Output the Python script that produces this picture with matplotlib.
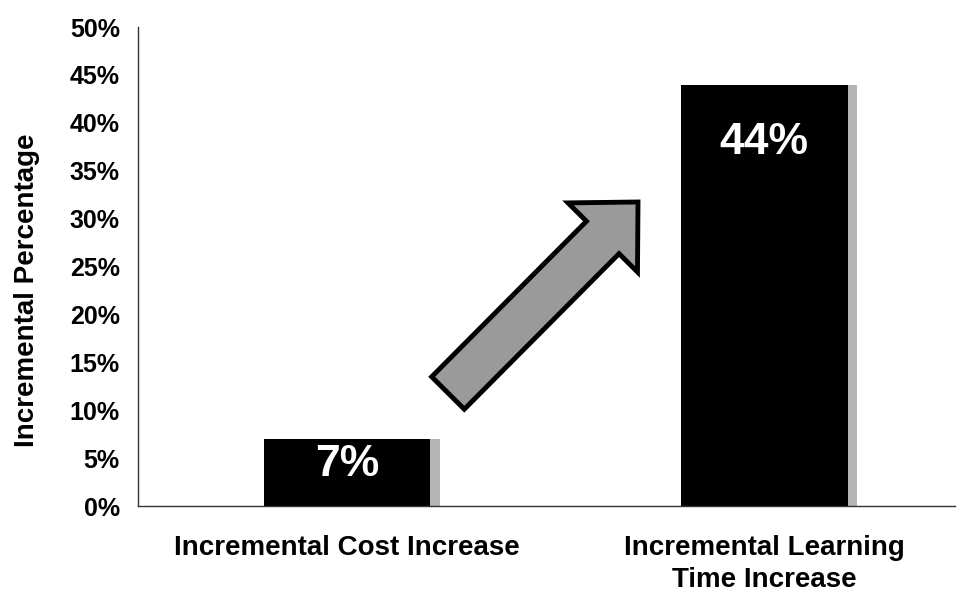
import matplotlib.pyplot as plt
from matplotlib.patches import FancyArrow

plt.rcParams['font.family'] = ['Liberation Sans', 'DejaVu Sans']

categories = ['Incremental Cost Increase', 'Incremental Learning\nTime Increase']
values = [7, 44]
value_labels = ['7%', '44%']
label_y = [4.3, 38]
y_ticks = [0, 5, 10, 15, 20, 25, 30, 35, 40, 45, 50]

fig = plt.figure(figsize=(9.58, 5.94), dpi=100)
ax = fig.add_axes([0.144, 0.148, 0.853, 0.8065])

x = list(range(len(categories)))
bar_w = 0.4

# soft grey drop shadow on the right edge, then the black bars
ax.bar([i + 0.022 for i in x], values, width=bar_w, color='#b4b4b4', zorder=1)
ax.bar(x, values, width=bar_w, color='black', zorder=2)

for i, (lab, ly) in enumerate(zip(value_labels, label_y)):
    ax.text(i, ly, lab, color='white', fontsize=32, fontweight='bold',
            ha='center', va='center', zorder=3)

ax.set_xlim(-0.501, 1.458)
ax.set_ylim(0, 50)
ax.set_yticks(y_ticks)
ax.set_yticklabels([f'{t}%' for t in y_ticks])
ax.set_xticks(x)
ax.set_xticklabels(categories, linespacing=1.3)

for t in ax.get_yticklabels():
    t.set_fontweight('bold')
    t.set_fontsize(18)
for t in ax.get_xticklabels():
    t.set_fontweight('bold')
    t.set_fontsize(20)
ax.tick_params(axis='y', length=0, pad=13)
ax.tick_params(axis='x', length=0, pad=21)

ax.set_ylabel('Incremental Percentage', fontsize=20, fontweight='bold')
ax.yaxis.set_label_coords(-0.12, 0.45)

for side in ['top', 'right']:
    ax.spines[side].set_visible(False)
for side in ['left', 'bottom']:
    ax.spines[side].set_color('#333333')
    ax.spines[side].set_linewidth(1.0)

# big grey arrow pointing from the small bar up to the tall one (in inches)
arrow = FancyArrow(4.48, 2.01, 1.90, 1.91, width=0.46, head_width=0.98,
                   head_length=0.50, length_includes_head=True,
                   facecolor='#9a9a9a', edgecolor='black', linewidth=3.5,
                   transform=fig.dpi_scale_trans, zorder=5)
fig.patches.append(arrow)

fig.savefig('out.png', dpi=100)
